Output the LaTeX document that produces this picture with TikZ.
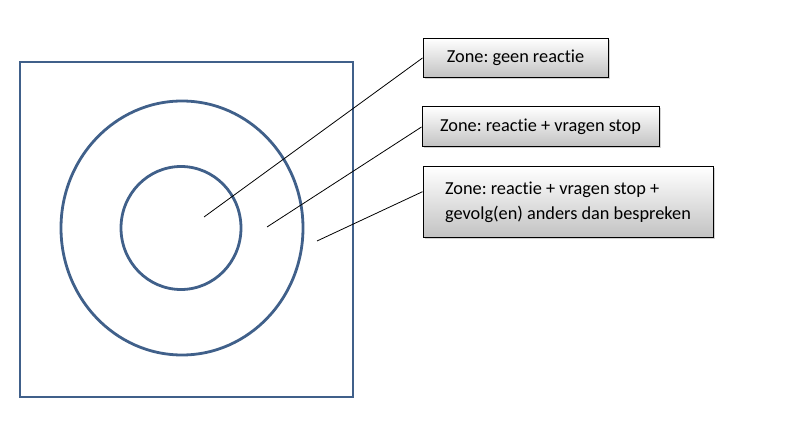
\documentclass[tikz,border=0pt]{standalone}
\usepackage{fontspec}
\setmainfont{Carlito}[Ligatures=NoCommon]
\usepackage{tikz}
\usetikzlibrary{shadows,calc}
\definecolor{ringblue}{RGB}{64,96,138}
\tikzset{
  zone box/.style={
    draw=black,line width=1pt,
    top color=white,bottom color=black!24,
    drop shadow={shadow xshift=1.5pt,shadow yshift=-1.5pt,opacity=0.35},
    font=\fontsize{18.3}{25}\selectfont\frenchspacing,
    inner sep=0pt
  },
  ring/.style={draw=ringblue,line width=2.8pt}
}
\begin{document}
\begin{tikzpicture}[x=1pt,y=-1pt]
    \useasboundingbox (0,0) rectangle (788,427);
    \begin{scope}[ring]
        \draw (20,62) rectangle (353,397);
        \draw (182,228) ellipse [x radius=121,y radius=127];
        \draw (181,228) ellipse [x radius=60,y radius=61.5];
    \end{scope}
    \coordinate (inner) at (204,217);
    \coordinate (middle) at (267,227);
    \coordinate (outer) at (317,241);
    \begin{scope}[every node/.style={zone box}]
        \node (geen) at (515.5,58) [minimum width=185pt,minimum height=39pt] {Zone: geen reactie};
        \node (vragen) at (540.5,127) [minimum width=237pt,minimum height=40pt] {Zone: reactie + vragen stop};
        \node (gevolg) at (568,202.5) [minimum width=290pt,minimum height=71pt,align=left] {Zone: reactie + vragen stop +\\gevolg(en) anders dan bespreken};
    \end{scope}
    \begin{scope}[line width=0.8pt]
        \draw (inner) -- (geen.west);
        \draw (middle) -- (vragen.west);
        \draw (outer) -- ($(gevolg.north west)!0.35!(gevolg.south west)$);
    \end{scope}
\end{tikzpicture}
\end{document}
